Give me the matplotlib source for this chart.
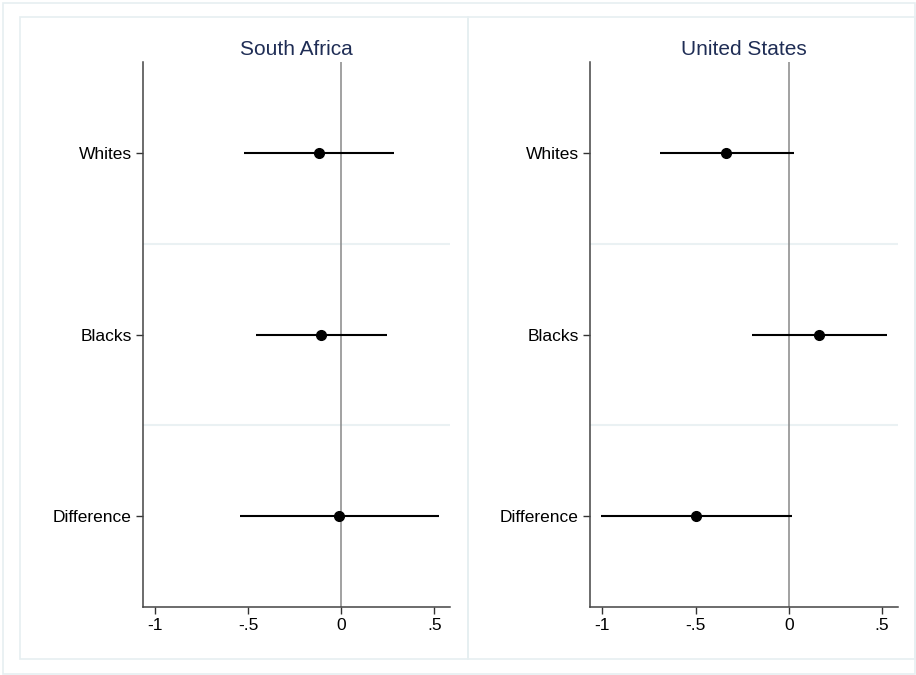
import numpy as np
import matplotlib
matplotlib.use('Agg')
import matplotlib.pyplot as plt
from matplotlib.patches import Rectangle

plt.rcParams['font.family'] = ['Liberation Sans', 'DejaVu Sans']

# Dados
grupos = ['Whites', 'Blacks', 'Difference']
paises = ['South Africa', 'United States']

sa_est = [-0.12, -0.109, -0.011]
sa_lo = [-0.523, -0.46, -0.545]
sa_hi = [0.282, 0.244, 0.524]

us_est = [-0.335, 0.163, -0.50]
us_lo = [-0.692, -0.199, -1.009]
us_hi = [0.028, 0.527, 0.018]

xticks = [-1, -0.5, 0, 0.5]
xticklabels = ['-1', '-.5', '0', '.5']

W, H = 916, 675
fig = plt.figure(figsize=(W / 100, H / 100), dpi=100)
fig.patch.set_facecolor('white')

borda = '#e6eff1'
# moldura externa e das duas subfiguras
fig.patches.append(Rectangle((3 / W, 1 - 674 / H), 912 / W, 671 / H, transform=fig.transFigure,
                             fill=False, edgecolor=borda, lw=1.2))
for x0, x1 in [(20, 468), (468, 915)]:
    fig.patches.append(Rectangle((x0 / W, 1 - 659 / H), (x1 - x0) / W, (659 - 17) / H,
                                 transform=fig.transFigure, fill=False, edgecolor=borda, lw=1.2))

posicoes = [(143, 450), (590, 898)]
dados = [(sa_est, sa_lo, sa_hi), (us_est, us_lo, us_hi)]
y = np.arange(1, len(grupos) + 1)

for (px0, px1), titulo, (est, lo, hi) in zip(posicoes, paises, dados):
    ax = fig.add_axes([px0 / W, 1 - 607 / H, (px1 - px0) / W, (607 - 62) / H])
    ax.set_xlim(-1.066, 0.585)
    ax.set_ylim(3.5, 0.5)

    for yy in [1.5, 2.5]:
        ax.axhline(yy, color='#eaf1f3', lw=1.5, zorder=0)
    ax.axvline(0, color='#888888', lw=1.1, zorder=1)

    ax.hlines(y, lo, hi, color='black', lw=1.5, zorder=2)
    ax.plot(est, y, 'o', color='black', markersize=7, zorder=3)

    ax.set_yticks(y)
    ax.set_yticklabels(grupos, fontsize=12.5)
    ax.set_xticks(xticks)
    ax.set_xticklabels(xticklabels, fontsize=12.5)
    ax.tick_params(direction='out', length=5, width=1, color='#333333', pad=3)

    for s in ['top', 'right']:
        ax.spines[s].set_visible(False)
    for s in ['left', 'bottom']:
        ax.spines[s].set_color('#444444')
        ax.spines[s].set_linewidth(1.1)

    ax.set_title(titulo, fontsize=15, color='#1f2d55', pad=5)

fig.savefig('out.png', dpi=100, facecolor='white')
